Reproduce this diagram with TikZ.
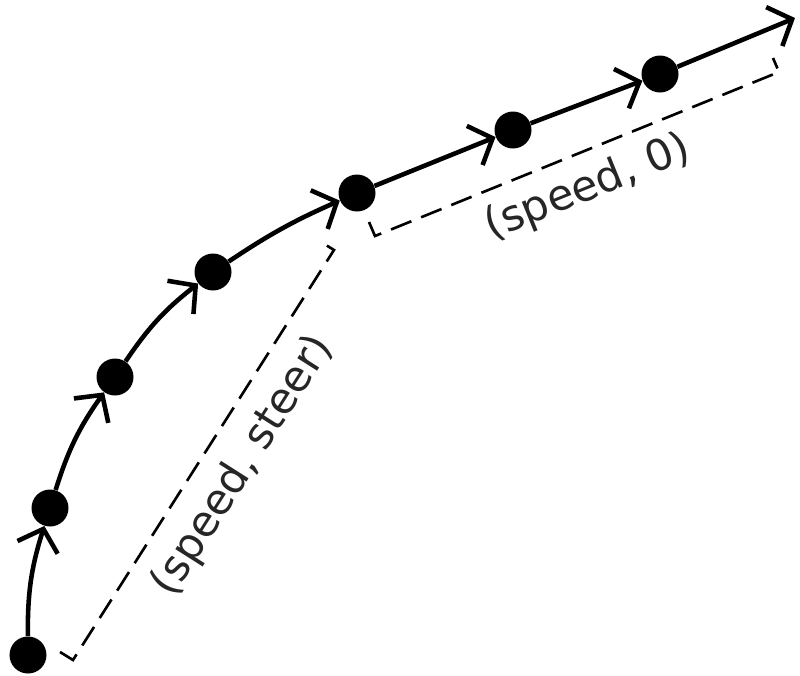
\documentclass[tikz,border=0pt]{standalone}
\usepackage{fontspec}
\setmainfont{DejaVu Sans}
\usetikzlibrary{arrows.meta}

\begin{document}
\begin{tikzpicture}[x=0.2mm, y=-0.2mm,
        pose/.style={circle, fill=black, inner sep=0pt, minimum size=7.4mm},
        track/.style={line width=2.6pt,
                      -{Straight Barb[length=11pt, width=24pt]}},
        bracket/.style={line width=1.5pt, dash pattern=on 12.5pt off 6pt},
        cmd/.style={font=\fontsize{24.4}{29}\selectfont, inner sep=0pt,
                    text=black!85}]

        \useasboundingbox (0,0) rectangle (800,676);

        % Draw the poses
        \node[pose] at (28, 655)  (p0) {};
        \node[pose] at (50, 508)  (p1) {};
        \node[pose] at (115, 377) (p2) {};
        \node[pose] at (213, 272) (p3) {};
        \node[pose] at (357, 193) (p4) {};
        \node[pose] at (513, 130) (p5) {};
        \node[pose] at (660, 74)  (p6) {};
        \coordinate (goal) at (795, 18);

        % Connect the poses with arrows
        \draw[track]
            (p0) edge[bend left=9] (p1)
            (p1) edge[bend left=9] (p2)
            (p2) edge[bend left=9] (p3)
            (p3) edge[bend left=5] (p4)
            (p4) edge (p5)
            (p5) edge (p6)
            (p6) edge (goal);

        % Draw the brackets
        \coordinate (s1) at (73, 660);
        \coordinate (e1) at (334, 250);
        \coordinate (s2) at (375, 236);
        \coordinate (e2) at (779, 72);
        \draw[bracket] (60, 652) -- (s1) -- (e1) -- (321, 242);
        \draw[bracket] (369, 222) -- (s2) -- (e2) -- (773, 58);

        % Label the brackets
        \node[cmd, rotate=57.5] at (243, 466) (turn) {(speed, steer)};
        \node[cmd, rotate=22.1] at (588, 188) (straight) {(speed, 0)};
\end{tikzpicture}
\end{document}
